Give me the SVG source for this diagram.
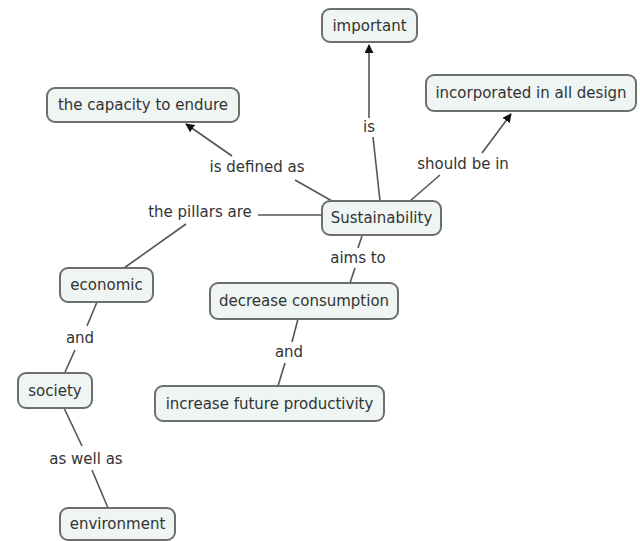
<svg xmlns="http://www.w3.org/2000/svg" width="640" height="541" viewBox="0 0 640 541">
<defs>
<style>
.node rect{fill:#eef5f3;stroke:#6e6e6e;stroke-width:2}
.node text,.lbl{font-family:"DejaVu Sans",Verdana,sans-serif;font-size:15px;fill:#333;text-anchor:middle;dominant-baseline:central}
.links line{stroke:#555;stroke-width:1.6}
</style>
<marker id="ah" viewBox="0 0 10 10" refX="9" refY="5" markerWidth="9" markerHeight="9" markerUnits="userSpaceOnUse" orient="auto"><path d="M0,0L10,5L0,10z" fill="#111"/></marker>
</defs>
<rect width="640" height="541" fill="#fff"/>
<g id="connectors" class="links">
<line x1="380" y1="201" x2="373" y2="137"/>
<line x1="369" y1="118" x2="369" y2="45" marker-end="url(#ah)"/>
<line x1="410" y1="201" x2="440" y2="175"/>
<line x1="482" y1="153" x2="511" y2="114" marker-end="url(#ah)"/>
<line x1="332" y1="201" x2="295" y2="180"/>
<line x1="232" y1="156" x2="186" y2="124" marker-end="url(#ah)"/>
<line x1="258" y1="215" x2="322" y2="215"/>
<line x1="186" y1="224" x2="124" y2="268"/>
<line x1="362" y1="236" x2="358" y2="248"/>
<line x1="355" y1="268" x2="350" y2="283"/>
<line x1="97" y1="302" x2="87" y2="326"/>
<line x1="75" y1="350" x2="65" y2="372"/>
<line x1="298" y1="319" x2="292" y2="342"/>
<line x1="285" y1="363" x2="278" y2="386"/>
<line x1="64" y1="408" x2="82" y2="446"/>
<line x1="92" y1="470" x2="108" y2="508"/>
</g>
<g id="lbl-is"><text class="lbl" x="369" y="127">is</text></g>
<g id="lbl-should"><text class="lbl" x="463" y="164">should be in</text></g>
<g id="lbl-defined"><text class="lbl" x="257" y="167">is defined as</text></g>
<g id="lbl-pillars"><text class="lbl" x="200" y="212">the pillars are</text></g>
<g id="lbl-aims"><text class="lbl" x="358" y="258">aims to</text></g>
<g id="lbl-and1"><text class="lbl" x="80" y="338">and</text></g>
<g id="lbl-and2"><text class="lbl" x="289" y="352">and</text></g>
<g id="lbl-aswell"><text class="lbl" x="86" y="459">as well as</text></g>
<g id="n-important" class="node"><rect x="322" y="9" width="95" height="33" rx="8"/><text x="369.5" y="26">important</text></g>
<g id="n-incorporated" class="node"><rect x="426" y="75" width="210" height="36" rx="8"/><text x="531" y="93">incorporated in all design</text></g>
<g id="n-capacity" class="node"><rect x="47" y="88" width="192" height="34" rx="8"/><text x="143" y="105">the capacity to endure</text></g>
<g id="n-sustainability" class="node"><rect x="322" y="201" width="119" height="34" rx="8"/><text x="381.5" y="218">Sustainability</text></g>
<g id="n-economic" class="node"><rect x="60" y="268" width="93" height="34" rx="8"/><text x="106.5" y="285">economic</text></g>
<g id="n-decrease" class="node"><rect x="210" y="283" width="188" height="36" rx="8"/><text x="304" y="301">decrease consumption</text></g>
<g id="n-society" class="node"><rect x="18" y="373" width="74" height="35" rx="8"/><text x="55" y="390.5">society</text></g>
<g id="n-increase" class="node"><rect x="155" y="386" width="229" height="35" rx="8"/><text x="269.5" y="403.5">increase future productivity</text></g>
<g id="n-environment" class="node"><rect x="60" y="508" width="115" height="32" rx="8"/><text x="117.5" y="524">environment</text></g>
</svg>
